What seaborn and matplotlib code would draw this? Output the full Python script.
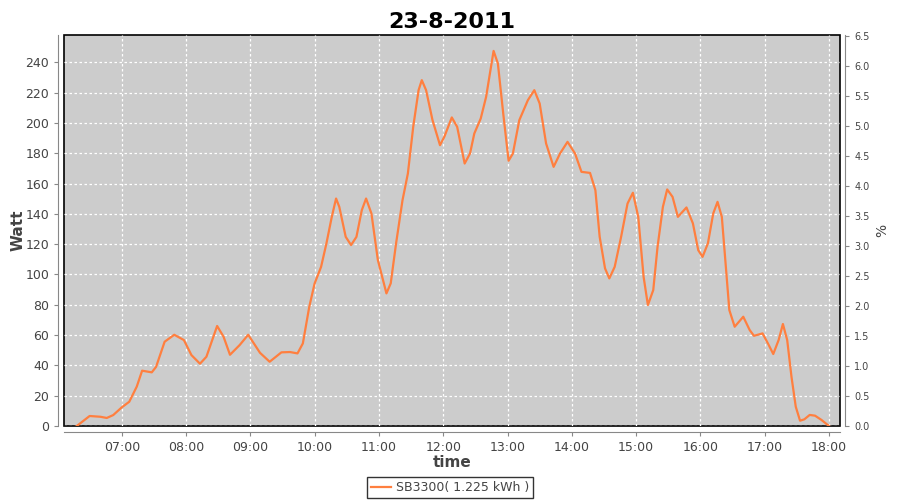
import pandas as pd
import seaborn as sns
import matplotlib
matplotlib.use("Agg")
import matplotlib.pyplot as plt
import matplotlib.dates as mdates

# readings from the SB3300 inverter, 23-8-2011
times = [
    "06:18", "06:30", "06:40", "06:46", "06:52", "07:00", "07:07", "07:14", "07:19", "07:28",
    "07:32", "07:40", "07:49", "07:58", "08:05", "08:13", "08:19", "08:29", "08:35", "08:41",
    "08:50", "08:58", "09:09", "09:18", "09:29", "09:37", "09:44", "09:49", "09:55", "10:00",
    "10:06", "10:11", "10:16", "10:20", "10:23", "10:29", "10:34", "10:39", "10:44", "10:48",
    "10:53", "10:59", "11:07", "11:11", "11:16", "11:22", "11:27", "11:32", "11:37", "11:40",
    "11:44", "11:50", "11:57", "12:01", "12:08", "12:13", "12:20", "12:25", "12:29", "12:35",
    "12:40", "12:47", "12:51", "12:56", "13:01", "13:05", "13:11", "13:19", "13:25", "13:30",
    "13:36", "13:43", "13:49", "13:56", "14:03", "14:09", "14:17", "14:22", "14:26", "14:31",
    "14:35", "14:40", "14:46", "14:52", "14:57", "15:02", "15:07", "15:11", "15:16", "15:20",
    "15:25", "15:29", "15:34", "15:39", "15:47", "15:53", "15:58", "16:02", "16:07", "16:12",
    "16:16", "16:20", "16:24", "16:27", "16:32", "16:40", "16:46", "16:50", "16:58", "17:03",
    "17:08", "17:13", "17:17", "17:21", "17:25", "17:29", "17:33", "17:37", "17:42", "17:47",
    "17:53", "18:00",
]
watt = [
    0, 6.6, 6.1, 5.3, 7.2, 12.3, 16, 26, 36.5, 35.4,
    39, 55.6, 60.2, 56.7, 46.8, 41.1, 45.7, 66, 58.9, 47,
    53.4, 60.2, 48.3, 42.4, 48.6, 48.8, 47.9, 54.5, 78.7, 94.1,
    105, 120.5, 138, 150.1, 144.6, 124.8, 119.4, 124.8, 142.4, 150.1,
    140.2, 109.5, 87.5, 94.1, 120.5, 149, 166.6, 197.4, 221.6, 228.2,
    221.6, 201.8, 185.3, 190.8, 203.6, 197.4, 173.2, 179.8, 193, 202.9,
    217.1, 247.5, 239.2, 206.2, 175, 179.8, 201.8, 215, 221.6, 212.8,
    186.4, 171, 179.8, 187.5, 179.8, 167.7, 167, 155.6, 124.8, 104,
    97.4, 105, 124.8, 146.8, 153.9, 138, 98.4, 79.8, 89.7, 118.2,
    144.6, 156.1, 151.2, 138, 144.2, 133.7, 116, 111.6, 120.5, 140.3,
    147.9, 138, 102.9, 76.5, 65.5, 72.1, 63.3, 59.5, 61.1, 54.5,
    47.5, 56.7, 67.3, 56.7, 32.5, 12.7, 3.5, 4.4, 7.3, 6.8,
    4.0, 0,
]
series_name = "SB3300( 1.225 kWh )"
watt_ticks = list(range(0, 241, 20))
pct_ticks = [i / 2 for i in range(14)]

df = pd.DataFrame({
    "time": pd.to_datetime(["2011-08-23 " + t for t in times]),
    "watt": watt,
})

plt.rcParams["font.family"] = ["DejaVu Sans"]
txt = "#444444"

fig = plt.figure(figsize=(9, 5), dpi=100)
ax = fig.add_axes([0.071, 0.148, 0.862, 0.782])

sns.lineplot(data=df, x="time", y="watt", ax=ax, color="#ff7f3f",
             linewidth=1.6, label=series_name)

ax.set_facecolor("#cccccc")
ax.patch.set_edgecolor("black")
ax.patch.set_linewidth(1.2)

ax.set_xlim(pd.Timestamp("2011-08-23 06:06"), pd.Timestamp("2011-08-23 18:10"))
ax.set_ylim(0, 258)
ax.set_yticks(watt_ticks)
ax.xaxis.set_major_locator(mdates.HourLocator(byhour=range(7, 19)))
ax.xaxis.set_major_formatter(mdates.DateFormatter("%H:%M"))

ax.grid(True, color="white", linestyle=(0, (2, 2)), linewidth=0.9)
ax.set_axisbelow(True)

for side in ["left", "bottom"]:
    ax.spines[side].set_position(("outward", 4))
    ax.spines[side].set_color("#888888")
for side in ["top", "right"]:
    ax.spines[side].set_visible(False)

ax.tick_params(axis="both", colors="#888888", labelcolor=txt, labelsize=9,
               length=3, width=0.8)

ax.set_xlabel("time", fontsize=11, fontweight="bold", color=txt, labelpad=1)
ax.set_ylabel("Watt", fontsize=11, fontweight="bold", color=txt, labelpad=0)
ax.set_title("23-8-2011", fontsize=16, fontweight="bold", color="black", pad=5)

# right axis in percent
ax2 = ax.twinx()
ax2.set_ylim(0, 6.517)
ax2.set_yticks(pct_ticks)
ax2.set_yticklabels([f"{v:.1f}" for v in pct_ticks])
for side in ["left", "top", "bottom"]:
    ax2.spines[side].set_visible(False)
ax2.spines["right"].set_position(("outward", 4))
ax2.spines["right"].set_color("#888888")
ax2.tick_params(axis="y", colors="#888888", labelcolor=txt, labelsize=7,
                length=3, width=0.8)
ax2.set_ylabel("%", fontsize=10, color=txt, labelpad=4)

ax.legend_.remove()
leg = fig.legend(*ax.get_legend_handles_labels(), loc="center",
                 bbox_to_anchor=(0.5, 0.025), frameon=True, fancybox=False,
                 fontsize=9, handlelength=1.6, borderpad=0.3, handletextpad=0.4)
leg.get_frame().set_edgecolor("black")
leg.get_frame().set_linewidth(1)
for t in leg.get_texts():
    t.set_color(txt)

fig.savefig("out.png", dpi=100)
